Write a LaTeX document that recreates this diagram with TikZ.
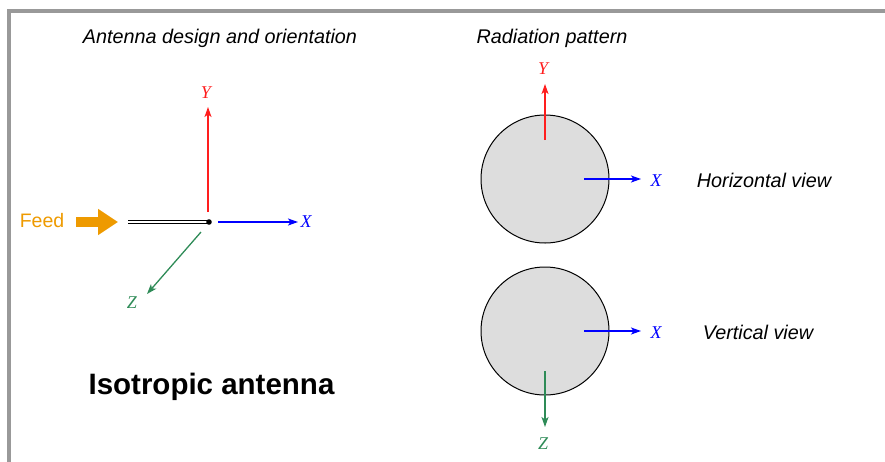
\documentclass[tikz,border=0pt]{standalone}
\usepackage{fontspec}
\setmainfont{Liberation Sans}
\newfontfamily\axfont{Liberation Serif}
\usetikzlibrary{arrows.meta}
\definecolor{framegray}{RGB}{153,153,153}
\definecolor{feedorange}{RGB}{238,154,0}
\definecolor{axred}{RGB}{255,30,30}
\definecolor{axblue}{RGB}{0,0,255}
\definecolor{axgreen}{RGB}{46,139,87}
\definecolor{patgray}{RGB}{221,221,221}
\tikzset{
  captext/.style={font=\fontsize{19.8}{22}\selectfont\itshape, inner sep=0pt, anchor=base},
  axlabel/.style={font=\axfont\fontsize{18}{20}\selectfont\itshape, inner sep=0pt},
  axarrow/.style={line width=1.3pt, -{Stealth[length=10pt,width=7pt,inset=2.5pt]}},
  pattern/.style={circle, draw=black, fill=patgray, line width=1pt, minimum size=128pt, inner sep=0pt},
}
\begin{document}
\begin{tikzpicture}[x=1pt,y=-1pt]
\useasboundingbox (0,0) rectangle (885,461);
\draw[framegray, line width=3.5pt] (9,463) -- (9,11) -- (887,11);

% headings
\node[captext] (h1) at (220,43) {Antenna design and orientation};
\node[captext] (h2) at (552,43) {Radiation pattern};

% antenna
\coordinate (ant0) at (128,222);
\coordinate (ant1) at (209,222);
\draw[line width=1.3pt, double=white, double distance=2pt] (ant0) -- (ant1);
\fill (ant1) circle (2.8pt);

% feed
\node[font=\fontsize{19.5}{22}\selectfont, text=feedorange, inner sep=0pt, anchor=base] (feed) at (42,227) {Feed};
\coordinate (fa0) at (76,222);
\coordinate (fa1) at (118,222);
\draw[feedorange, line width=10pt, -{Triangle[length=20pt,width=25pt]}] (fa0) -- (fa1);

% axes
\coordinate (yo) at (208,212);
\coordinate (xo) at (218,222);
\coordinate (zo) at (201,232);
\node[axlabel, text=axred] (ylab) at (206,93) {Y};
\node[axlabel, text=axblue] (xlab) at (306,222) {X};
\node[axlabel, text=axgreen] (zlab) at (132,303) {Z};
\coordinate (yt) at (208,107);
\coordinate (xt) at (298,222);
\coordinate (zt) at (147,294);
\draw[axarrow, axred] (yo) -- (yt);
\draw[axarrow, axblue] (xo) -- (xt);
\draw[axarrow, axgreen] (zo) -- (zt);

% title
\node[font=\fontsize{29.5}{32}\selectfont\bfseries, inner sep=0pt, anchor=base] (title) at (211.5,394) {Isotropic antenna};

% horizontal pattern
\node[pattern] (c1) at (545,179) {};
\coordinate (c1y0) at (545,140);
\coordinate (c1y1) at (545,84);
\coordinate (c1x0) at (584,179);
\coordinate (c1x1) at (641,179);
\draw[axarrow, axred] (c1y0) -- (c1y1);
\draw[axarrow, axblue] (c1x0) -- (c1x1);
\node[axlabel, text=axred] (c1ylab) at (543,69) {Y};
\node[axlabel, text=axblue] (c1xlab) at (656,181) {X};
\node[captext] (hv) at (764,187) {Horizontal view};

% vertical pattern
\node[pattern] (c2) at (545,331) {};
\coordinate (c2x0) at (584,331);
\coordinate (c2x1) at (641,331);
\coordinate (c2z0) at (545,371);
\coordinate (c2z1) at (545,427);
\draw[axarrow, axblue] (c2x0) -- (c2x1);
\draw[axarrow, axgreen] (c2z0) -- (c2z1);
\node[axlabel, text=axblue] (c2xlab) at (656,333) {X};
\node[axlabel, text=axgreen] (c2zlab) at (543,444) {Z};
\node[captext] (vv) at (758,339) {Vertical view};
\end{tikzpicture}
\end{document}
